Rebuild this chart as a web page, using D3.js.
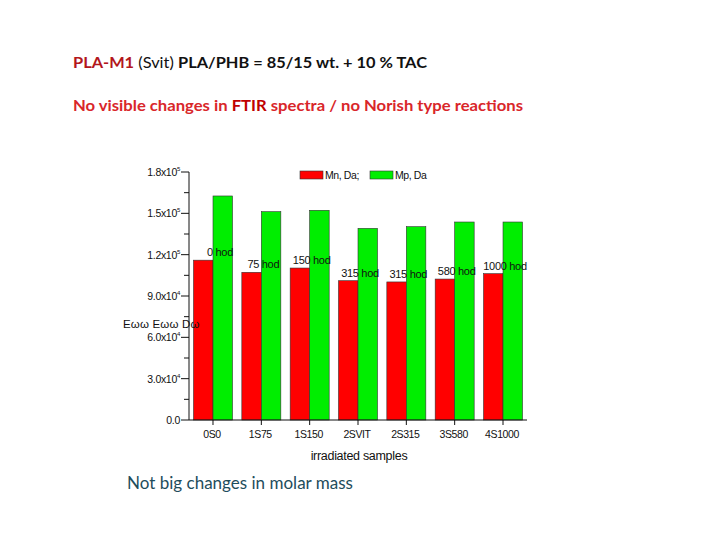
<!DOCTYPE html>
<html>
<head>
<meta charset="utf-8">
<script src="https://cdn.jsdelivr.net/npm/d3@7"></script>
<style>
  body { margin: 0; background: #fff; }
  svg { display: block; }
</style>
</head>
<body>
<svg id="chart" width="720" height="540"></svg>
<script>
const samples = ['0S0', '1S75', '1S150', '2SVIT', '2S315', '3S580', '4S1000']
const mnValues = [116000, 107200, 110300, 101100, 100200, 102300, 106200]
const mpValues = [162600, 151200, 152200, 139100, 140300, 143700, 143700]
const hourLabels = ['0 hod', '75 hod', '150 hod', '315 hod', '315 hod', '580 hod', '1000 hod']
const seriesNames = ['Mn, Da;', 'Mp, Da']
const seriesColors = ['#ff0000', '#00ee00']
const yTicks = [0, 30000, 60000, 90000, 120000, 150000, 180000]

const svg = d3.select('#chart')

// heading texts
const t1 = svg.append('text')
    .attr('x', 73).attr('y', 68)
    .attr('font-family', 'Lato, "Open Sans", sans-serif')
    .attr('font-size', 16)
    .attr('textLength', 354)
    .attr('lengthAdjust', 'spacingAndGlyphs')
t1.append('tspan').attr('font-weight', 'bold').attr('fill', '#b3161c').text('PLA-M1')
t1.append('tspan').attr('fill', '#111').text(' (Svit)  ')
t1.append('tspan').attr('font-weight', 'bold').attr('fill', '#111').text('PLA/PHB = 85/15 wt.  + 10 % TAC')

const t2 = svg.append('text')
    .attr('x', 73).attr('y', 111)
    .attr('font-family', 'Lato, "Open Sans", sans-serif')
    .attr('font-size', 16)
    .attr('font-weight', 'bold')
    .attr('fill', '#d9262a')
    .attr('textLength', 450)
    .attr('lengthAdjust', 'spacingAndGlyphs')
t2.append('tspan').text('No visible changes in ')
t2.append('tspan').attr('fill', '#c00000').text('FTIR')
t2.append('tspan').text(' spectra / no Norish type reactions')

svg.append('text')
    .attr('x', 127).attr('y', 489)
    .attr('font-family', 'Lato, "Open Sans", sans-serif')
    .attr('font-size', 16.5)
    .attr('fill', '#1e4d5c')
    .attr('textLength', 226)
    .attr('lengthAdjust', 'spacingAndGlyphs')
    .text('Not big changes in molar mass')

// scales
const x = d3.scaleBand()
    .domain(samples)
    .range([189, 527])
    .paddingInner(0.193)
    .paddingOuter(0.093)

const y = d3.scaleLinear()
    .domain([0, 180000])
    .range([420, 172])

const font = 'Arial, "Liberation Sans", sans-serif'
const g = svg.append('g')

// bars
const half = x.bandwidth() / 2
samples.forEach(function (s, i) {
    [mnValues[i], mpValues[i]].forEach(function (v, j) {
        g.append('rect')
            .attr('x', x(s) + j * half)
            .attr('y', y(v))
            .attr('width', half)
            .attr('height', y(0) - y(v))
            .attr('fill', seriesColors[j])
            .attr('stroke', '#333')
            .attr('stroke-width', 0.6)
    })
    g.append('text')
        .attr('x', x(s) + x.bandwidth() / 2 + (i === 0 ? 7 : 2))
        .attr('y', y(mnValues[i]) - 4)
        .attr('text-anchor', 'middle')
        .attr('font-family', font)
        .attr('font-size', 11)
        .attr('letter-spacing', -0.3)
        .attr('fill', '#111')
        .text(hourLabels[i])
})

// y axis
const axisX = x.range()[0]
const yAxis = g.append('g')
yAxis.append('line')
    .attr('x1', axisX).attr('x2', axisX)
    .attr('y1', y(180000)).attr('y2', y(0))
    .attr('stroke', '#111')
d3.range(0, 180001, 15000).forEach(function (v) {
    const major = v % 30000 === 0
    yAxis.append('line')
        .attr('x1', axisX - (major ? 8 : 5)).attr('x2', axisX)
        .attr('y1', y(v)).attr('y2', y(v))
        .attr('stroke', '#111')
})
yTicks.forEach(function (v) {
    const t = yAxis.append('text')
        .attr('x', axisX - 9)
        .attr('y', y(v) + 4)
        .attr('text-anchor', 'end')
        .attr('font-family', font)
        .attr('font-size', 10.5)
        .attr('letter-spacing', -0.3)
        .attr('fill', '#111')
    if (v === 0) {
        t.text('0.0')
        return
    }
    const exp = Math.floor(Math.log10(v))
    t.append('tspan').text((v / Math.pow(10, exp)).toFixed(1) + 'x10')
    t.append('tspan').attr('font-size', 6).attr('dy', -5).text(exp)
})

// garbled axis title
g.append('text')
    .attr('x', 123).attr('y', 328)
    .attr('font-family', font)
    .attr('font-size', 11.5)
    .attr('letter-spacing', -0.5)
    .attr('fill', '#111')
    .attr('textLength', 76)
    .text('Eωω Eωω Dω')

// x axis
const xAxis = g.append('g')
xAxis.append('line')
    .attr('x1', x.range()[0]).attr('x2', x.range()[1])
    .attr('y1', 420).attr('y2', 420)
    .attr('stroke', '#111')
samples.forEach(function (s) {
    const cx = x(s) + x.bandwidth() / 2
    xAxis.append('line')
        .attr('x1', cx).attr('x2', cx)
        .attr('y1', 420).attr('y2', 425)
        .attr('stroke', '#111')
    xAxis.append('text')
        .attr('x', cx - 1).attr('y', 438)
        .attr('text-anchor', 'middle')
        .attr('font-family', font)
        .attr('font-size', 10.5)
        .attr('letter-spacing', -0.4)
        .attr('fill', '#111')
        .text(s)
})
xAxis.append('text')
    .attr('x', 359).attr('y', 460)
    .attr('text-anchor', 'middle')
    .attr('font-family', font)
    .attr('font-size', 12.5)
    .attr('letter-spacing', -0.3)
    .attr('fill', '#111')
    .text('irradiated samples')

// legend
const legendX = [300, 370]
seriesNames.forEach(function (name, i) {
    g.append('rect')
        .attr('x', legendX[i]).attr('y', 171)
        .attr('width', 23).attr('height', 8)
        .attr('fill', seriesColors[i])
        .attr('stroke', '#333')
        .attr('stroke-width', 0.6)
    g.append('text')
        .attr('x', legendX[i] + 25).attr('y', 179)
        .attr('font-family', font)
        .attr('font-size', 10.5)
        .attr('letter-spacing', -0.4)
        .attr('fill', '#111')
        .text(name)
})
</script>
</body>
</html>
